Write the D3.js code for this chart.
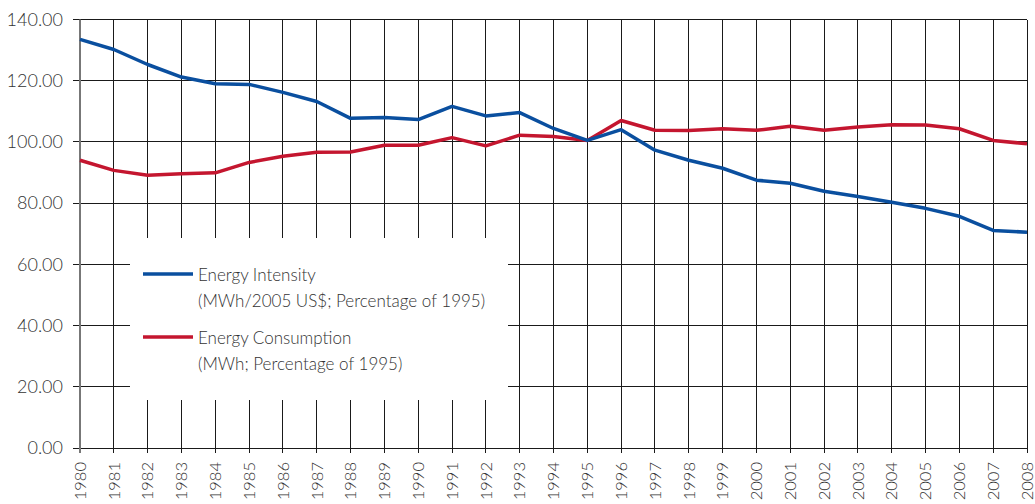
<!DOCTYPE html>
<html>
<head>
<meta charset="utf-8">
<script src="https://cdn.jsdelivr.net/npm/d3@7"></script>
<style>
  body { margin: 0; background: #fff; }
  text { font-family: Lato, "Open Sans", sans-serif; font-weight: 300; fill: #333; }
</style>
</head>
<body>
<svg width="1035" height="504"></svg>
<script>
// years on the x axis
let years = d3.range(1980, 2009);
// energy intensity, % of 1995
let intensity = [133.5, 130.2, 125.3, 121.2, 119.0, 118.8, 116.2, 113.2, 107.7, 108.0,
                 107.3, 111.6, 108.5, 109.6, 104.4, 100.5, 104.0, 97.3, 94.0, 91.4,
                 87.5, 86.5, 83.9, 82.2, 80.3, 78.3, 75.7, 71.1, 70.5];
// energy consumption, % of 1995
let consumption = [94.0, 90.7, 89.1, 89.6, 89.9, 93.3, 95.3, 96.6, 96.7, 98.9,
                   98.9, 101.4, 98.7, 102.2, 101.8, 100.5, 107.0, 103.8, 103.7, 104.3,
                   103.8, 105.1, 103.8, 104.9, 105.6, 105.5, 104.3, 100.5, 99.4];
let yTicks = [0, 20, 40, 60, 80, 100, 120, 140];
let legendLabels = [["Energy Intensity", "(MWh/2005 US$; Percentage of 1995)"],
                    ["Energy Consumption", "(MWh; Percentage of 1995)"]];

let svg = d3.select("svg");
let mLeft = 80, mRight = 1027, mTop = 19.5, mBottom = 448;

let x = d3.scaleLinear().domain([1980, 2008]).range([mLeft, mRight]);
let y = d3.scaleLinear().domain([0, 140]).range([mBottom, mTop]);

let grid = svg.append("g").attr("shape-rendering", "crispEdges");

// horizontal grid with small ticks on the left
grid.selectAll("line.h").data(yTicks).join("line")
    .attr("class", "h")
    .attr("x1", mLeft - 7).attr("x2", mRight)
    .attr("y1", d => y(d)).attr("y2", d => y(d))
    .attr("stroke", "#1a1a1a").attr("stroke-width", 1);

// vertical grid with small ticks below the axis
grid.selectAll("line.v").data(years.slice(1)).join("line")
    .attr("class", "v")
    .attr("x1", d => x(d)).attr("x2", d => x(d))
    .attr("y1", mTop).attr("y2", mBottom + 5)
    .attr("stroke", "#1a1a1a").attr("stroke-width", 1);

// legend background hides the grid behind it
svg.append("rect")
    .attr("x", 130).attr("y", 238).attr("width", 378).attr("height", 162)
    .attr("fill", "#fff");

// y axis line
svg.append("line")
    .attr("x1", mLeft).attr("x2", mLeft).attr("y1", mTop).attr("y2", mBottom + 5)
    .attr("stroke", "#777").attr("stroke-width", 2);

// y tick labels
svg.selectAll("text.yl").data(yTicks).join("text")
    .attr("class", "yl")
    .attr("x", 63).attr("y", d => y(d))
    .attr("dy", "0.35em")
    .attr("text-anchor", "end")
    .style("font-size", "18px")
    .text(d => d.toFixed(2));

// x tick labels, rotated
svg.selectAll("text.xl").data(years).join("text")
    .attr("class", "xl")
    .attr("transform", d => `translate(${x(d)},462) rotate(-90)`)
    .attr("dy", "0.35em")
    .attr("text-anchor", "end")
    .style("font-size", "16.5px")
    .text(d => d);

let line = d3.line().x((d, i) => x(years[i])).y(d => y(d));

svg.append("path").datum(consumption)
    .attr("d", line)
    .attr("fill", "none").attr("stroke", "#c4162f").attr("stroke-width", 3.5)
    .attr("stroke-linejoin", "round");

svg.append("path").datum(intensity)
    .attr("d", line)
    .attr("fill", "none").attr("stroke", "#0a4f9f").attr("stroke-width", 3.5)
    .attr("stroke-linejoin", "round");

// legend
let colors = ["#0a4f9f", "#c4162f"];
let lg = svg.selectAll("g.leg").data(legendLabels).join("g")
    .attr("class", "leg")
    .attr("transform", (d, i) => `translate(143,${274 + i * 63})`);

lg.append("line")
    .attr("x1", 0).attr("x2", 50).attr("y1", 0).attr("y2", 0)
    .attr("stroke", (d, i) => colors[i]).attr("stroke-width", 3.5);

lg.append("text")
    .attr("x", 55).attr("y", 1).attr("dy", "0.35em")
    .style("font-size", "17px")
    .text(d => d[0]);

lg.append("text")
    .attr("x", 55).attr("y", 27).attr("dy", "0.35em")
    .style("font-size", "17px")
    .text(d => d[1]);
</script>
</body>
</html>
